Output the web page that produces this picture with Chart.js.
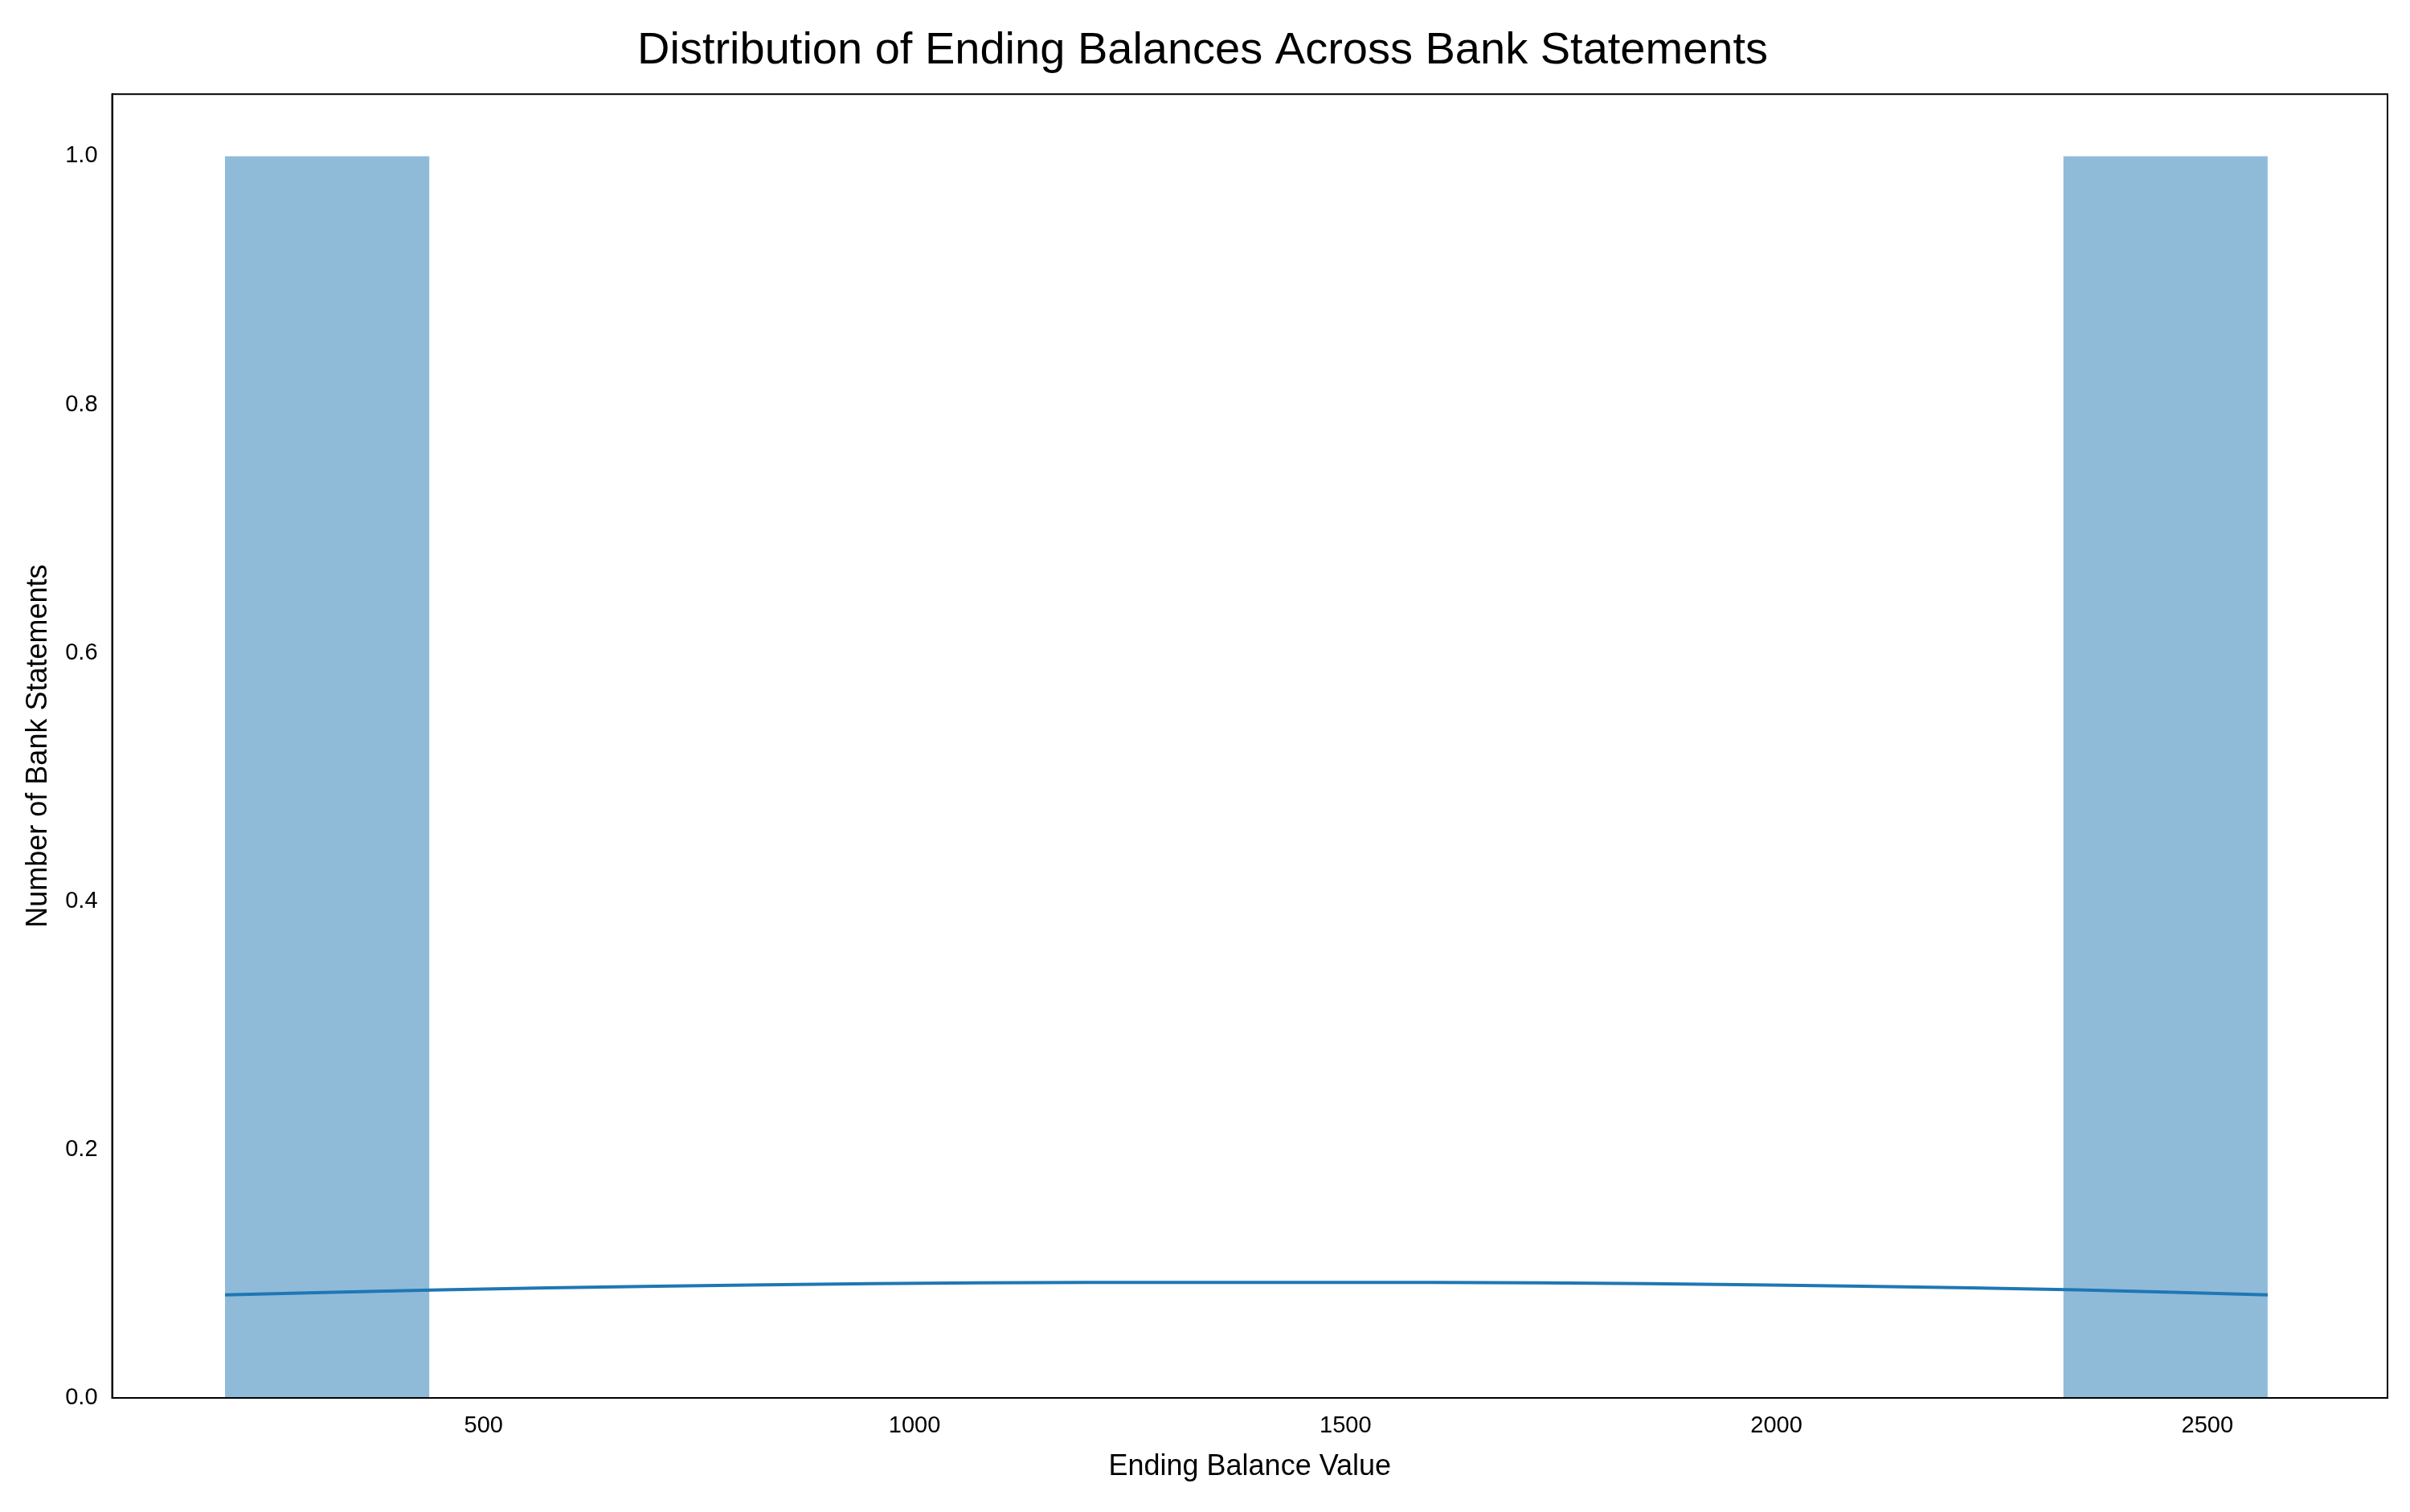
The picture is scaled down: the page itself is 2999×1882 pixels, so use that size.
<!DOCTYPE html>
<html><head><meta charset="utf-8">
<script src="https://cdn.jsdelivr.net/npm/chart.js@4"></script>
<style>html,body{margin:0;padding:0;background:#fff}</style>
</head><body>
<canvas id="c" width="2999" height="1882"></canvas>
<script>
const binEdges = [200, 437, 2333, 2570];
const binCounts = [1, 1];
const kdeX = [200, 450, 700, 950, 1200, 1385, 1600, 1850, 2100, 2350, 2570];
const kdeY = [0.083, 0.087, 0.090, 0.092, 0.093, 0.093, 0.093, 0.092, 0.090, 0.087, 0.083];
const xTicks = [500, 1000, 1500, 2000, 2500];
const yTicks = [0, 0.2, 0.4, 0.6, 0.8, 1.0];

const histPts = [
  {x: binEdges[0], y: 0}, {x: binEdges[0], y: binCounts[0]}, {x: binEdges[1], y: binCounts[0]}, {x: binEdges[1], y: 0},
  {x: binEdges[2], y: 0}, {x: binEdges[2], y: binCounts[1]}, {x: binEdges[3], y: binCounts[1]}, {x: binEdges[3], y: 0}
];
const kdePts = kdeX.map((x, i) => ({x, y: kdeY[i]}));
const font = {family: 'Liberation Sans, Arial, sans-serif', weight: 'normal'};

const frame = {id: 'frame', afterDraw(ch) {
  const a = ch.chartArea, c = ch.ctx;
  c.save(); c.strokeStyle = '#000'; c.lineWidth = 2;
  c.strokeRect(a.left, a.top, a.right - a.left, a.bottom - a.top); c.restore();
}};

new Chart(document.getElementById('c'), {
  type: 'line',
  data: {datasets: [
    {data: histPts, fill: 'origin', backgroundColor: 'rgba(31,119,180,0.5)', borderWidth: 0, pointRadius: 0, tension: 0},
    {data: kdePts, borderColor: '#1f77b4', borderWidth: 4, pointRadius: 0, tension: 0.4, fill: false}
  ]},
  options: {
    responsive: false, devicePixelRatio: 1, animation: false,
    layout: {padding: {left: 22, right: 28, top: 10, bottom: 30}},
    plugins: {legend: {display: false}, tooltip: {enabled: false},
      title: {display: true, text: 'Distribution of Ending Balances Across Bank Statements', color: '#000',
        font: {...font, size: 56}, padding: {top: 20, bottom: 20}}},
    scales: {
      x: {type: 'linear', min: 69, max: 2709,
        afterBuildTicks: s => { s.ticks = xTicks.map(v => ({value: v})); },
        grid: {display: false, drawTicks: true, tickLength: 10, tickColor: '#000'},
        border: {color: '#000', width: 2},
        ticks: {color: '#000', font: {...font, size: 29}, padding: 8, callback: v => String(v)},
        title: {display: true, text: 'Ending Balance Value', color: '#000', font: {...font, size: 36}}},
      y: {type: 'linear', min: 0, max: 1.05,
        afterBuildTicks: s => { s.ticks = yTicks.map(v => ({value: v})); },
        grid: {display: false, drawTicks: true, tickLength: 10, tickColor: '#000'},
        border: {color: '#000', width: 2},
        ticks: {color: '#000', font: {...font, size: 29}, padding: 8, callback: v => v.toFixed(1)},
        title: {display: true, text: 'Number of Bank Statements', color: '#000', font: {...font, size: 36}}}
    }
  },
  plugins: [frame]
});
</script>
</body></html>
